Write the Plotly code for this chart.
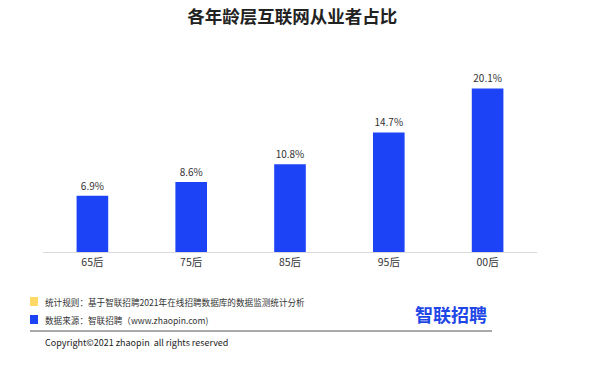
import plotly.graph_objects as go

categories = ["65后", "75后", "85后", "95后", "00后"]
values = [6.9, 8.6, 10.8, 14.7, 20.1]
labels = ["6.9%", "8.6%", "10.8%", "14.7%", "20.1%"]

FONT = "Noto Sans CJK SC"
BLUE = "#1c44f6"

fig = go.Figure()
fig.add_trace(go.Bar(
    x=categories, y=values, text=labels, textposition="outside",
    textfont=dict(size=10, color="#333333", family=FONT),
    marker=dict(color=BLUE, line=dict(width=0)),
    cliponaxis=False, width=0.32,
))

fig.update_layout(
    width=600, height=365,
    margin=dict(l=43, r=63, t=73, b=113),
    plot_bgcolor="white", paper_bgcolor="white",
    showlegend=False,
    font=dict(family=FONT, color="#333333"),
    title=dict(text="<b>各年龄层互联网从业者占比</b>", x=0.487, xanchor="center",
               y=0.953, yanchor="middle",
               font=dict(size=17.5, family=FONT, color="#222222")),
    xaxis=dict(showline=True, linecolor="#d9d9d9", linewidth=1, ticks="",
               tickfont=dict(size=10.5, color="#333333"), showgrid=False),
    yaxis=dict(range=[0, 22], visible=False, showgrid=False),
)

# plot area x from 43 to 537 px, y from 73 to 252 px
def px(x):
    return (x - 43) / 494.0
def py(y):
    return (252 - y) / 179.0

shapes = [
    dict(type="rect", xref="paper", yref="paper", x0=px(30), x1=px(38), y0=py(297), y1=py(306),
         fillcolor="#ffd966", line=dict(width=0)),
    dict(type="rect", xref="paper", yref="paper", x0=px(30), x1=px(38), y0=py(315), y1=py(324),
         fillcolor=BLUE, line=dict(width=0)),
    dict(type="line", xref="paper", yref="paper", x0=px(30), x1=px(492), y0=py(331), y1=py(331),
         line=dict(color="#555555", width=1.2)),
]
fig.update_layout(shapes=shapes)

annotations = [
    dict(text="统计规则：基于智联招聘2021年在线招聘数据库的数据监测统计分析", x=px(43), y=py(301.5),
         xanchor="left", yanchor="middle", font=dict(size=8.6, color="#333333")),
    dict(text="数据来源：智联招聘（www.zhaopin.com)", x=px(43), y=py(319.5),
         xanchor="left", yanchor="middle", font=dict(size=8.6, color="#333333")),
    dict(text="<b>智联招聘</b>", x=px(489), y=py(314), xanchor="right", yanchor="middle",
         font=dict(size=18, color="#1f47e6")),
    dict(text="Copyright©2021 zhaopin  all rights reserved", x=px(43), y=py(342.5),
         xanchor="left", yanchor="middle", font=dict(size=9, color="#222222")),
]
for a in annotations:
    a.update(xref="paper", yref="paper", showarrow=False)
fig.update_layout(annotations=annotations)

fig.write_html("out.html", config={"displayModeBar": False},
               post_script="document.body.style.margin='0';")
